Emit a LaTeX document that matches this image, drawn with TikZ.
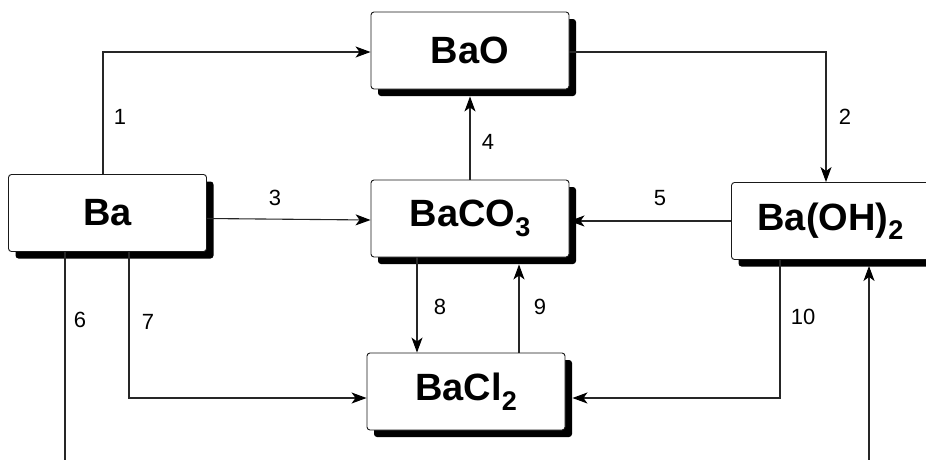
\documentclass[tikz,border=0pt]{standalone}
\usepackage{fontspec}
\setmainfont{Liberation Sans}
\usetikzlibrary{arrows.meta,shadows,calc}
\newcommand{\chemsub}[1]{\raisebox{-0.25em}{\fontsize{27}{27}\selectfont #1}}

\begin{document}
\begin{tikzpicture}[x=1pt,y=-1pt,
    chem/.style={draw=black!90,line width=0.9pt,fill=white,rounded corners=3pt,minimum width=198pt,minimum height=77pt,
      font=\fontsize{38}{42}\selectfont\bfseries,
      drop shadow={shadow xshift=7pt,shadow yshift=-7pt,fill=black,opacity=1}},
    conn/.style={draw,black!85,line width=1.1pt,-{Stealth[length=15pt,width=11pt,inset=4pt,black]}},
    line/.style={draw,black!85,line width=1.1pt},
    num/.style={font=\fontsize{22}{24}\selectfont}]
    \useasboundingbox (0,0) rectangle (926,459);
    \node[chem] (bao) at (470,50.5) {BaO};
    \node[chem] (ba) at (107.5,213) {Ba};
    \node[chem] (baco) at (470,218.5) {BaCO\chemsub{3}};
    \node[chem] (bhox) at (830.5,221) {Ba(OH)\chemsub{2}};
    \node[chem] (bacl) at (466,391.5) {BaCl\chemsub{2}};
    \coordinate (out6) at (65,462);
    \coordinate (in11) at (869,462);

    % arrows
    \draw[conn] ([xshift=-4.5pt]ba.north) |- ([yshift=-1.5pt]bao.west);
    \draw[conn] ([yshift=-1.5pt]bao.east) -| ([xshift=-4.5pt]bhox.north);
    \draw[conn] (ba.east |- baco.west) -- ([yshift=-1.5pt]baco.west);
    \draw[conn,shorten >=7pt] (baco.north) -- (bao.south);
    \draw[conn] (bhox.west) -- (bhox.west -| baco.east);
    \draw[line] ([xshift=-42.5pt]ba.south) -- (out6);
    \draw[conn] ([xshift=21.5pt]ba.south) |- ([yshift=-6.5pt]bacl.west);
    \draw[conn] ([xshift=-53pt]baco.south) -- ([xshift=-53pt]baco.south |- bacl.north);
    \draw[conn,shorten >=7pt] ([xshift=53pt]bacl.north) -- ([xshift=53pt]bacl.north |- baco.south);
    \draw[conn,shorten >=7pt] ([xshift=-50.5pt]bhox.south) |- ([yshift=-6.5pt]bacl.east);
    \draw[conn,shorten >=6pt] (in11) -- (in11 |- bhox.south);

    % labels
    \node[num] (lbl1) at (120,117) {1};
    \node[num] (lbl2) at (845,117) {2};
    \node[num] (lbl3) at (275,198) {3};
    \node[num] (lbl4) at (488,142) {4};
    \node[num] (lbl5) at (660,198) {5};
    \node[num] (lbl6) at (80,320) {6};
    \node[num] (lbl7) at (148,322) {7};
    \node[num] (lbl8) at (440,307) {8};
    \node[num] (lbl9) at (540,307) {9};
    \node[num] (lbl10) at (803,317) {10};
\end{tikzpicture}
\end{document}
